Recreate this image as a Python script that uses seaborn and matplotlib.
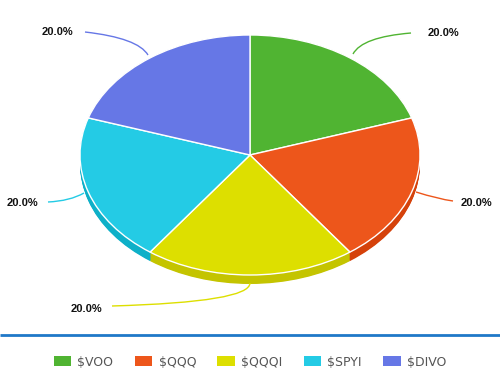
import seaborn as sns
from matplotlib import pyplot as plt
from matplotlib.patches import Patch, PathPatch
from matplotlib.path import Path
import numpy as np

# data
tickers = ['$VOO', '$QQQ', '$QQQI', '$SPYI', '$DIVO']
shares = [20.0, 20.0, 20.0, 20.0, 20.0]
top_colors = ['#50b432', '#ed561b', '#dddf00', '#24cbe5', '#6677e6']
side_colors = ['#3f9a25', '#d5420b', '#c4c400', '#0eb0c8', '#5061cc']

sns.set_theme(style='white')
plt.rcParams['font.family'] = ['DejaVu Sans']

fig = plt.figure(figsize=(5, 3.89), dpi=100)
ax = fig.add_axes([0, 0, 1, 1])

# pixel coordinates, y squashed so the pie looks tilted
k = 170 / 120
W, H = 500, 389
cx, cy = 250, (H - 155) * k
r = 170
depth = 9 * k

# side of the disc: stacked pies
for d in np.linspace(depth, 0, 14):
    ax.pie(shares, colors=side_colors, startangle=90, counterclock=False,
           radius=r, center=(cx, cy - d), frame=True,
           wedgeprops=dict(linewidth=0))
# top face
wedges, _ = ax.pie(shares, colors=top_colors, startangle=90, counterclock=False,
                   radius=r, center=(cx, cy), frame=True,
                   wedgeprops=dict(edgecolor='white', linewidth=1))

ax.set_aspect('auto')
ax.set_xlim(0, W)
ax.set_ylim(0, H * k)
ax.axis('off')


def px(x, y):
    return (x, (H - y) * k)


# leaders: pie point, control point, label end, text pos, alignment
label_spec = [
    ((353, 54), (362, 37), (411, 33), (428, 33), 'left'),
    ((416, 192), (438, 199), (453, 201), (461, 203), 'left'),
    ((250, 283), (250, 302), (112, 306), (102, 309), 'right'),
    ((84, 193), (70, 201), (48, 202), (38, 203), 'right'),
    ((148, 55), (138, 38), (85, 32), (73, 32), 'right'),
]
for (p0, p1, p2, t, ha), c, v in zip(label_spec, top_colors, shares):
    path = Path([px(*p0), px(*p1), px(*p2)], [Path.MOVETO, Path.CURVE3, Path.CURVE3])
    ax.add_patch(PathPatch(path, facecolor='none', edgecolor=c, lw=1))
    ax.text(*px(*t), f'{v:.1f}%', ha=ha, va='center', fontsize=8,
            fontweight='bold', color='#111111', family='Liberation Sans')

# blue separator line
ax.plot([0, W], px(0, 335)[1] * np.ones(2), color='#1f78c8', lw=2,
        solid_capstyle='butt')

handles = [Patch(facecolor=c, edgecolor='none') for c in top_colors]
fig.legend(handles, tickers, loc='center', bbox_to_anchor=(0.5, 1 - 362 / H),
           ncol=5, frameon=False, fontsize=9, handlelength=1.4,
           handleheight=0.9, columnspacing=1.7, handletextpad=0.5,
           labelcolor='#555555')

fig.savefig('out.png', dpi=100)
